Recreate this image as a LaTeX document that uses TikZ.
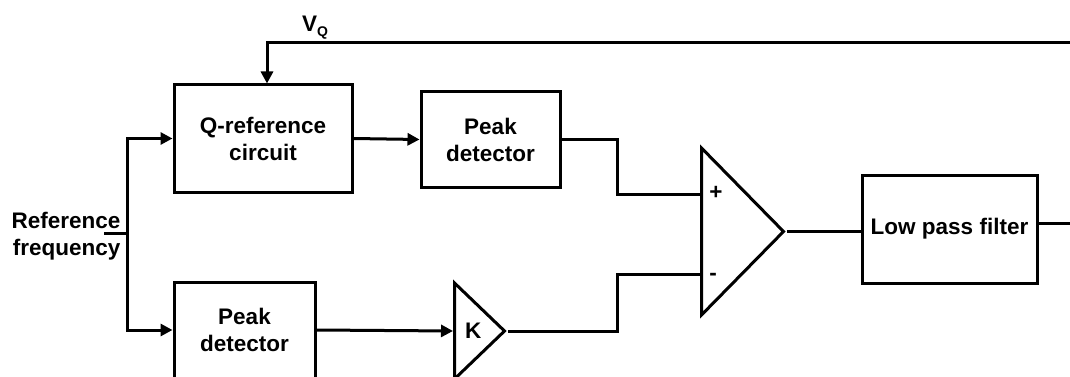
\documentclass[tikz,border=0pt]{standalone}
\usepackage{fontspec}
\setmainfont{Liberation Sans}
\usetikzlibrary{shapes.geometric, arrows.meta}

\begin{document}
\begin{tikzpicture}[x=1pt, y=-1pt,
        font=\fontsize{22.5}{27}\selectfont\bfseries,
        block/.style={draw, line width=3pt, align=center, inner sep=0pt},
        amptri/.style={draw, line width=3pt, isosceles triangle, isosceles triangle stretches, inner sep=0pt, anchor=lower side},
        wire/.style={line width=3pt},
        feed/.style={wire, -{Triangle[length=12pt, width=12pt]}}]
        \clip (0,0) rectangle (1070,377);

        % Blocks
        \node[block, minimum width=178, minimum height=107] (qref) at (263,138.5) {Q-reference\\circuit};
        \node[block, minimum width=139, minimum height=95] (pdtop) at (490.5,139.5) {Peak\\detector};
        \node[block, minimum width=141, minimum height=96] (pdbot) at (244.5,330) {Peak\\detector};
        \node[block, minimum width=175, minimum height=108] (lpf) at (949.5,229) {Low pass filter};

        % Amplifiers
        \node[amptri, minimum height=50, minimum width=96] (kamp) at (453,331) {K};
        \node[amptri, minimum height=82, minimum width=167] (amp) at (700,231.5) {};
        \node (plus) at (716,193) {+};
        \node (minus) at (713,277) {-};

        % Labels
        \node[anchor=east, align=right] (reftext) at (124,236) {Reference\\frequency};
        \node[anchor=base west, inner sep=0pt] (vqtext) at (302,32) {V\raisebox{-5pt}{\fontsize{14}{14}\selectfont Q}};

        % Points
        \coordinate (inend) at (104,233);
        \coordinate (split) at (127,233);
        \coordinate (fbend) at (1075,43);
        \coordinate (fbcorner) at (267,43);
        \coordinate (join) at (617,0);
        \coordinate (ampplus) at (700,194);
        \coordinate (ampminus) at (700,274);
        \coordinate (lpfout) at (1075,223);

        % Wires
        \draw[wire] (inend) -- (split);
        \draw[feed] (split) |- (qref.west);
        \draw[feed] (split) |- (pdbot.west);
        \draw[feed] (fbend) -- (fbcorner) -- (fbcorner |- qref.north);
        \draw[feed] (qref.east) -- (pdtop.west);
        \draw[feed] (pdbot.east) -- (kamp.lower side);
        \draw[wire] (pdtop.east) -| (join |- ampplus) -- (ampplus);
        \draw[wire] (kamp.apex) -| (join |- ampminus) -- (ampminus);
        \draw[wire] (amp.apex) -- (amp.apex -| lpf.west);
        \draw[wire] (lpf.east |- lpfout) -- (lpfout);
    \end{tikzpicture}
\end{document}
